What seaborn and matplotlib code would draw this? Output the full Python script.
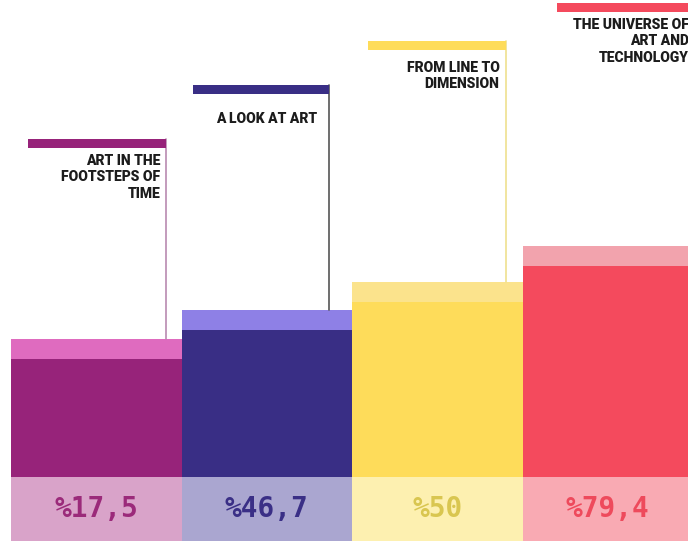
import pandas as pd
import matplotlib.pyplot as plt
import seaborn as sns

# Data
topics = ["ART IN THE\nFOOTSTEPS OF\nTIME", "A LOOK AT ART",
          "FROM LINE TO\nDIMENSION", "THE UNIVERSE OF\nART AND\nTECHNOLOGY"]
shares = [17.5, 46.7, 50, 79.4]
bar_heights = [118, 147, 175, 211]      # drawn height of each step (pixels-ish units)
flag_heights = [338, 392, 436, 474]     # top of the label flag above each bar

# Colours
dark = ["#97237a", "#392e85", "#fedc5a", "#f44a5d"]
cap_col = ["#df6bbf", "#8e80e6", "#fbe38c", "#f2a3ad"]
band_col = ["#d9a3c9", "#aaa6d0", "#fdf0b0", "#f9aab3"]
text_col = ["#9b2a7a", "#3a2f86", "#d9c650", "#ee4a5c"]
stem_col = ["#b98ab0", "#555555", "#efe08f", "#f2a3ad"]

# Layout (offsets from bar centre, in bar widths)
flag_left = [-0.40, -0.435, -0.406, -0.30]
flag_right = [0.406, 0.365, 0.40, 0.52]
text_pad = [0.03, 0.07, 0.035, 0.044]
text_gap = [6, 18, 11, 6]
cap = 20
flag_thick = 9
band = 64

df = pd.DataFrame({"topic": topics, "share": shares, "height": bar_heights})
df["cap_top"] = df["height"] + cap
df["band"] = -band

sns.set_style("white")
fig = plt.figure(figsize=(6.88, 5.41), dpi=100)
ax = fig.add_axes([0, 0, 1, 1])

for col, pal in [("cap_top", cap_col), ("height", dark), ("band", band_col)]:
    sns.barplot(data=df, x="topic", y=col, hue="topic", palette=pal,
                width=1, saturation=1, legend=False, linewidth=0, ax=ax)

for i, row in df.iterrows():
    top = flag_heights[i]
    x0, x1 = i + flag_left[i], i + flag_right[i]
    # flag
    ax.fill_between([x0, x1], top - flag_thick, top, color=dark[i], lw=0, zorder=3)
    # stem down to the bar
    ax.plot([x1, x1], [top, row["cap_top"]], color=stem_col[i], lw=1.2, zorder=2)
    # title
    ax.text(x1 - text_pad[i], top - flag_thick - text_gap[i], row["topic"], ha="right", va="top",
            fontsize=10, fontweight="black", family=["Roboto", "DejaVu Sans"],
            color="#1c1c1c", linespacing=1.22, zorder=4)
    # percentage
    label = "%" + f"{row['share']:g}".replace(".", ",")
    ax.text(i, -band / 2, label, ha="center", va="center", fontsize=20,
            fontweight="bold", family="DejaVu Sans Mono", color=text_col[i], zorder=4)

ax.set_xlim(-0.565, 3.47)
ax.set_ylim(-band, 477)
ax.axis("off")

fig.savefig("out.png", dpi=100)
